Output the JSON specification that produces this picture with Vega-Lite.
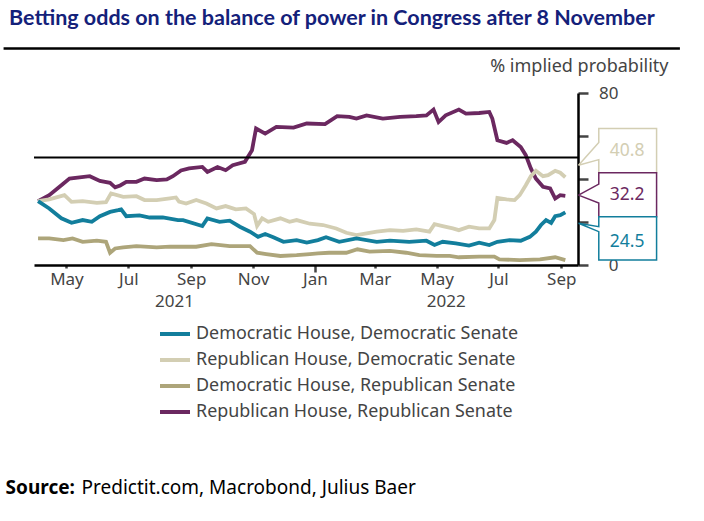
{
  "$schema": "https://vega.github.io/schema/vega-lite/v6.json",
  "width": 544,
  "height": 172,
  "autosize": "none",
  "padding": {"left": 34, "top": 93, "right": 126, "bottom": 256},
  "data": {"values": [{}]},
  "title": {
    "text": "Betting odds on the balance of power in Congress after 8 November",
    "anchor": "start",
    "frame": "group",
    "dx": -25,
    "offset": 18,
    "font": "Lato",
    "fontSize": 21.5,
    "fontWeight": "bold",
    "color": "#14217a"
  },
  "datasets": {
    "series": [
      {"date": "2021-04-03", "series": "Republican House, Republican Senate", "value": 29.7},
      {"date": "2021-04-14", "series": "Republican House, Republican Senate", "value": 32.5},
      {"date": "2021-04-26", "series": "Republican House, Republican Senate", "value": 37.1},
      {"date": "2021-05-04", "series": "Republican House, Republican Senate", "value": 40.2},
      {"date": "2021-05-24", "series": "Republican House, Republican Senate", "value": 41.3},
      {"date": "2021-06-03", "series": "Republican House, Republican Senate", "value": 39.1},
      {"date": "2021-06-13", "series": "Republican House, Republican Senate", "value": 38.2},
      {"date": "2021-06-18", "series": "Republican House, Republican Senate", "value": 36.1},
      {"date": "2021-06-23", "series": "Republican House, Republican Senate", "value": 37.0},
      {"date": "2021-06-29", "series": "Republican House, Republican Senate", "value": 38.7},
      {"date": "2021-07-09", "series": "Republican House, Republican Senate", "value": 38.7},
      {"date": "2021-07-17", "series": "Republican House, Republican Senate", "value": 40.2},
      {"date": "2021-07-29", "series": "Republican House, Republican Senate", "value": 39.5},
      {"date": "2021-08-08", "series": "Republican House, Republican Senate", "value": 39.8},
      {"date": "2021-08-14", "series": "Republican House, Republican Senate", "value": 41.3},
      {"date": "2021-08-22", "series": "Republican House, Republican Senate", "value": 44.0},
      {"date": "2021-08-30", "series": "Republican House, Republican Senate", "value": 44.9},
      {"date": "2021-09-12", "series": "Republican House, Republican Senate", "value": 45.6},
      {"date": "2021-09-17", "series": "Republican House, Republican Senate", "value": 43.3},
      {"date": "2021-09-27", "series": "Republican House, Republican Senate", "value": 45.6},
      {"date": "2021-10-05", "series": "Republican House, Republican Senate", "value": 44.1},
      {"date": "2021-10-12", "series": "Republican House, Republican Senate", "value": 46.4},
      {"date": "2021-10-24", "series": "Republican House, Republican Senate", "value": 48.0},
      {"date": "2021-10-31", "series": "Republican House, Republican Senate", "value": 53.4},
      {"date": "2021-11-04", "series": "Republican House, Republican Senate", "value": 63.5},
      {"date": "2021-11-13", "series": "Republican House, Republican Senate", "value": 61.1},
      {"date": "2021-11-24", "series": "Republican House, Republican Senate", "value": 64.2},
      {"date": "2021-12-11", "series": "Republican House, Republican Senate", "value": 63.9},
      {"date": "2021-12-24", "series": "Republican House, Republican Senate", "value": 65.8},
      {"date": "2022-01-11", "series": "Republican House, Republican Senate", "value": 65.5},
      {"date": "2022-01-23", "series": "Republican House, Republican Senate", "value": 69.2},
      {"date": "2022-02-04", "series": "Republican House, Republican Senate", "value": 68.9},
      {"date": "2022-02-11", "series": "Republican House, Republican Senate", "value": 68.1},
      {"date": "2022-02-21", "series": "Republican House, Republican Senate", "value": 69.6},
      {"date": "2022-03-09", "series": "Republican House, Republican Senate", "value": 68.1},
      {"date": "2022-03-26", "series": "Republican House, Republican Senate", "value": 68.9},
      {"date": "2022-04-11", "series": "Republican House, Republican Senate", "value": 69.2},
      {"date": "2022-04-21", "series": "Republican House, Republican Senate", "value": 69.6},
      {"date": "2022-04-28", "series": "Republican House, Republican Senate", "value": 72.3},
      {"date": "2022-05-03", "series": "Republican House, Republican Senate", "value": 66.5},
      {"date": "2022-05-10", "series": "Republican House, Republican Senate", "value": 69.6},
      {"date": "2022-05-23", "series": "Republican House, Republican Senate", "value": 72.3},
      {"date": "2022-05-30", "series": "Republican House, Republican Senate", "value": 70.4},
      {"date": "2022-06-12", "series": "Republican House, Republican Senate", "value": 70.7},
      {"date": "2022-06-22", "series": "Republican House, Republican Senate", "value": 71.2},
      {"date": "2022-06-25", "series": "Republican House, Republican Senate", "value": 68.1},
      {"date": "2022-06-30", "series": "Republican House, Republican Senate", "value": 58.0},
      {"date": "2022-07-09", "series": "Republican House, Republican Senate", "value": 56.8},
      {"date": "2022-07-15", "series": "Republican House, Republican Senate", "value": 58.0},
      {"date": "2022-07-23", "series": "Republican House, Republican Senate", "value": 54.9},
      {"date": "2022-07-28", "series": "Republican House, Republican Senate", "value": 51.1},
      {"date": "2022-08-02", "series": "Republican House, Republican Senate", "value": 44.9},
      {"date": "2022-08-07", "series": "Republican House, Republican Senate", "value": 40.2},
      {"date": "2022-08-14", "series": "Republican House, Republican Senate", "value": 36.4},
      {"date": "2022-08-21", "series": "Republican House, Republican Senate", "value": 35.6},
      {"date": "2022-08-26", "series": "Republican House, Republican Senate", "value": 30.9},
      {"date": "2022-08-31", "series": "Republican House, Republican Senate", "value": 32.5},
      {"date": "2022-09-05", "series": "Republican House, Republican Senate", "value": 32.2},

      {"date": "2021-04-03", "series": "Republican House, Democratic Senate", "value": 29.7},
      {"date": "2021-04-14", "series": "Republican House, Democratic Senate", "value": 30.5},
      {"date": "2021-04-29", "series": "Republican House, Democratic Senate", "value": 32.5},
      {"date": "2021-05-06", "series": "Republican House, Democratic Senate", "value": 29.4},
      {"date": "2021-05-17", "series": "Republican House, Democratic Senate", "value": 29.7},
      {"date": "2021-05-31", "series": "Republican House, Democratic Senate", "value": 28.9},
      {"date": "2021-06-09", "series": "Republican House, Democratic Senate", "value": 29.2},
      {"date": "2021-06-14", "series": "Republican House, Democratic Senate", "value": 33.3},
      {"date": "2021-06-26", "series": "Republican House, Democratic Senate", "value": 31.7},
      {"date": "2021-07-09", "series": "Republican House, Democratic Senate", "value": 32.0},
      {"date": "2021-07-17", "series": "Republican House, Democratic Senate", "value": 30.2},
      {"date": "2021-07-29", "series": "Republican House, Democratic Senate", "value": 30.2},
      {"date": "2021-08-11", "series": "Republican House, Democratic Senate", "value": 31.0},
      {"date": "2021-08-17", "series": "Republican House, Democratic Senate", "value": 31.4},
      {"date": "2021-08-20", "series": "Republican House, Democratic Senate", "value": 29.5},
      {"date": "2021-08-27", "series": "Republican House, Democratic Senate", "value": 28.6},
      {"date": "2021-09-06", "series": "Republican House, Democratic Senate", "value": 30.2},
      {"date": "2021-09-16", "series": "Republican House, Democratic Senate", "value": 28.6},
      {"date": "2021-09-26", "series": "Republican House, Democratic Senate", "value": 26.3},
      {"date": "2021-10-05", "series": "Republican House, Democratic Senate", "value": 27.4},
      {"date": "2021-10-15", "series": "Republican House, Democratic Senate", "value": 25.9},
      {"date": "2021-10-25", "series": "Republican House, Democratic Senate", "value": 26.3},
      {"date": "2021-11-02", "series": "Republican House, Democratic Senate", "value": 23.7},
      {"date": "2021-11-05", "series": "Republican House, Democratic Senate", "value": 18.2},
      {"date": "2021-11-10", "series": "Republican House, Democratic Senate", "value": 21.7},
      {"date": "2021-11-16", "series": "Republican House, Democratic Senate", "value": 20.1},
      {"date": "2021-11-28", "series": "Republican House, Democratic Senate", "value": 21.7},
      {"date": "2021-12-07", "series": "Republican House, Democratic Senate", "value": 20.1},
      {"date": "2021-12-14", "series": "Republican House, Democratic Senate", "value": 20.9},
      {"date": "2021-12-27", "series": "Republican House, Democratic Senate", "value": 19.2},
      {"date": "2022-01-09", "series": "Republican House, Democratic Senate", "value": 18.6},
      {"date": "2022-01-22", "series": "Republican House, Democratic Senate", "value": 17.0},
      {"date": "2022-02-01", "series": "Republican House, Democratic Senate", "value": 15.0},
      {"date": "2022-02-11", "series": "Republican House, Democratic Senate", "value": 13.9},
      {"date": "2022-02-21", "series": "Republican House, Democratic Senate", "value": 14.7},
      {"date": "2022-03-03", "series": "Republican House, Democratic Senate", "value": 15.5},
      {"date": "2022-03-16", "series": "Republican House, Democratic Senate", "value": 16.2},
      {"date": "2022-03-29", "series": "Republican House, Democratic Senate", "value": 15.9},
      {"date": "2022-04-11", "series": "Republican House, Democratic Senate", "value": 16.6},
      {"date": "2022-04-24", "series": "Republican House, Democratic Senate", "value": 15.5},
      {"date": "2022-04-29", "series": "Republican House, Democratic Senate", "value": 19.0},
      {"date": "2022-05-07", "series": "Republican House, Democratic Senate", "value": 18.1},
      {"date": "2022-05-17", "series": "Republican House, Democratic Senate", "value": 17.0},
      {"date": "2022-05-23", "series": "Republican House, Democratic Senate", "value": 16.2},
      {"date": "2022-06-02", "series": "Republican House, Democratic Senate", "value": 17.8},
      {"date": "2022-06-12", "series": "Republican House, Democratic Senate", "value": 17.0},
      {"date": "2022-06-22", "series": "Republican House, Democratic Senate", "value": 17.0},
      {"date": "2022-06-27", "series": "Republican House, Democratic Senate", "value": 20.9},
      {"date": "2022-06-30", "series": "Republican House, Democratic Senate", "value": 31.2},
      {"date": "2022-07-09", "series": "Republican House, Democratic Senate", "value": 30.5},
      {"date": "2022-07-17", "series": "Republican House, Democratic Senate", "value": 30.2},
      {"date": "2022-07-22", "series": "Republican House, Democratic Senate", "value": 32.5},
      {"date": "2022-07-28", "series": "Republican House, Democratic Senate", "value": 37.1},
      {"date": "2022-08-02", "series": "Republican House, Democratic Senate", "value": 41.3},
      {"date": "2022-08-07", "series": "Republican House, Democratic Senate", "value": 43.8},
      {"date": "2022-08-14", "series": "Republican House, Democratic Senate", "value": 41.3},
      {"date": "2022-08-19", "series": "Republican House, Democratic Senate", "value": 41.8},
      {"date": "2022-08-26", "series": "Republican House, Democratic Senate", "value": 43.8},
      {"date": "2022-08-31", "series": "Republican House, Democratic Senate", "value": 42.9},
      {"date": "2022-09-05", "series": "Republican House, Democratic Senate", "value": 40.8},

      {"date": "2021-04-03", "series": "Democratic House, Democratic Senate", "value": 29.7},
      {"date": "2021-04-14", "series": "Democratic House, Democratic Senate", "value": 26.3},
      {"date": "2021-04-26", "series": "Democratic House, Democratic Senate", "value": 21.7},
      {"date": "2021-05-06", "series": "Democratic House, Democratic Senate", "value": 19.6},
      {"date": "2021-05-17", "series": "Democratic House, Democratic Senate", "value": 20.9},
      {"date": "2021-05-26", "series": "Democratic House, Democratic Senate", "value": 20.1},
      {"date": "2021-06-03", "series": "Democratic House, Democratic Senate", "value": 22.7},
      {"date": "2021-06-13", "series": "Democratic House, Democratic Senate", "value": 24.7},
      {"date": "2021-06-21", "series": "Democratic House, Democratic Senate", "value": 25.5},
      {"date": "2021-06-24", "series": "Democratic House, Democratic Senate", "value": 25.9},
      {"date": "2021-06-29", "series": "Democratic House, Democratic Senate", "value": 22.7},
      {"date": "2021-07-12", "series": "Democratic House, Democratic Senate", "value": 23.1},
      {"date": "2021-07-22", "series": "Democratic House, Democratic Senate", "value": 22.1},
      {"date": "2021-08-04", "series": "Democratic House, Democratic Senate", "value": 22.1},
      {"date": "2021-08-19", "series": "Democratic House, Democratic Senate", "value": 20.9},
      {"date": "2021-08-24", "series": "Democratic House, Democratic Senate", "value": 20.9},
      {"date": "2021-09-12", "series": "Democratic House, Democratic Senate", "value": 18.1},
      {"date": "2021-09-17", "series": "Democratic House, Democratic Senate", "value": 21.7},
      {"date": "2021-09-29", "series": "Democratic House, Democratic Senate", "value": 20.1},
      {"date": "2021-10-09", "series": "Democratic House, Democratic Senate", "value": 20.6},
      {"date": "2021-10-19", "series": "Democratic House, Democratic Senate", "value": 17.8},
      {"date": "2021-10-29", "series": "Democratic House, Democratic Senate", "value": 15.5},
      {"date": "2021-11-06", "series": "Democratic House, Democratic Senate", "value": 13.1},
      {"date": "2021-11-13", "series": "Democratic House, Democratic Senate", "value": 14.4},
      {"date": "2021-11-21", "series": "Democratic House, Democratic Senate", "value": 12.9},
      {"date": "2021-12-01", "series": "Democratic House, Democratic Senate", "value": 10.8},
      {"date": "2021-12-14", "series": "Democratic House, Democratic Senate", "value": 11.6},
      {"date": "2021-12-24", "series": "Democratic House, Democratic Senate", "value": 10.4},
      {"date": "2022-01-04", "series": "Democratic House, Democratic Senate", "value": 11.6},
      {"date": "2022-01-12", "series": "Democratic House, Democratic Senate", "value": 12.9},
      {"date": "2022-01-25", "series": "Democratic House, Democratic Senate", "value": 10.8},
      {"date": "2022-02-11", "series": "Democratic House, Democratic Senate", "value": 12.4},
      {"date": "2022-03-03", "series": "Democratic House, Democratic Senate", "value": 10.8},
      {"date": "2022-03-16", "series": "Democratic House, Democratic Senate", "value": 11.3},
      {"date": "2022-04-04", "series": "Democratic House, Democratic Senate", "value": 10.8},
      {"date": "2022-04-21", "series": "Democratic House, Democratic Senate", "value": 11.3},
      {"date": "2022-04-29", "series": "Democratic House, Democratic Senate", "value": 9.3},
      {"date": "2022-05-07", "series": "Democratic House, Democratic Senate", "value": 10.8},
      {"date": "2022-05-20", "series": "Democratic House, Democratic Senate", "value": 10.1},
      {"date": "2022-06-02", "series": "Democratic House, Democratic Senate", "value": 9.0},
      {"date": "2022-06-12", "series": "Democratic House, Democratic Senate", "value": 10.4},
      {"date": "2022-06-22", "series": "Democratic House, Democratic Senate", "value": 9.3},
      {"date": "2022-06-30", "series": "Democratic House, Democratic Senate", "value": 10.8},
      {"date": "2022-07-12", "series": "Democratic House, Democratic Senate", "value": 11.6},
      {"date": "2022-07-23", "series": "Democratic House, Democratic Senate", "value": 11.3},
      {"date": "2022-08-01", "series": "Democratic House, Democratic Senate", "value": 13.1},
      {"date": "2022-08-07", "series": "Democratic House, Democratic Senate", "value": 15.5},
      {"date": "2022-08-12", "series": "Democratic House, Democratic Senate", "value": 18.6},
      {"date": "2022-08-17", "series": "Democratic House, Democratic Senate", "value": 20.9},
      {"date": "2022-08-22", "series": "Democratic House, Democratic Senate", "value": 19.6},
      {"date": "2022-08-26", "series": "Democratic House, Democratic Senate", "value": 22.7},
      {"date": "2022-08-31", "series": "Democratic House, Democratic Senate", "value": 23.2},
      {"date": "2022-09-05", "series": "Democratic House, Democratic Senate", "value": 24.5},

      {"date": "2021-04-03", "series": "Democratic House, Republican Senate", "value": 12.4},
      {"date": "2021-04-14", "series": "Democratic House, Republican Senate", "value": 12.4},
      {"date": "2021-04-28", "series": "Democratic House, Republican Senate", "value": 11.6},
      {"date": "2021-05-07", "series": "Democratic House, Republican Senate", "value": 12.4},
      {"date": "2021-05-17", "series": "Democratic House, Republican Senate", "value": 10.8},
      {"date": "2021-05-31", "series": "Democratic House, Republican Senate", "value": 11.3},
      {"date": "2021-06-09", "series": "Democratic House, Republican Senate", "value": 10.8},
      {"date": "2021-06-13", "series": "Democratic House, Republican Senate", "value": 5.7},
      {"date": "2021-06-18", "series": "Democratic House, Republican Senate", "value": 7.7},
      {"date": "2021-06-26", "series": "Democratic House, Republican Senate", "value": 8.2},
      {"date": "2021-07-09", "series": "Democratic House, Republican Senate", "value": 8.8},
      {"date": "2021-07-29", "series": "Democratic House, Republican Senate", "value": 8.2},
      {"date": "2021-08-11", "series": "Democratic House, Republican Senate", "value": 8.5},
      {"date": "2021-08-24", "series": "Democratic House, Republican Senate", "value": 8.5},
      {"date": "2021-09-06", "series": "Democratic House, Republican Senate", "value": 8.5},
      {"date": "2021-09-21", "series": "Democratic House, Republican Senate", "value": 9.7},
      {"date": "2021-10-09", "series": "Democratic House, Republican Senate", "value": 8.8},
      {"date": "2021-10-29", "series": "Democratic House, Republican Senate", "value": 8.8},
      {"date": "2021-11-05", "series": "Democratic House, Republican Senate", "value": 5.7},
      {"date": "2021-11-14", "series": "Democratic House, Republican Senate", "value": 5.1},
      {"date": "2021-11-28", "series": "Democratic House, Republican Senate", "value": 4.2},
      {"date": "2021-12-14", "series": "Democratic House, Republican Senate", "value": 4.6},
      {"date": "2021-12-27", "series": "Democratic House, Republican Senate", "value": 5.1},
      {"date": "2022-01-04", "series": "Democratic House, Republican Senate", "value": 5.4},
      {"date": "2022-01-15", "series": "Democratic House, Republican Senate", "value": 5.7},
      {"date": "2022-02-01", "series": "Democratic House, Republican Senate", "value": 5.7},
      {"date": "2022-02-12", "series": "Democratic House, Republican Senate", "value": 7.3},
      {"date": "2022-02-24", "series": "Democratic House, Republican Senate", "value": 6.2},
      {"date": "2022-03-16", "series": "Democratic House, Republican Senate", "value": 6.6},
      {"date": "2022-04-01", "series": "Democratic House, Republican Senate", "value": 5.7},
      {"date": "2022-04-14", "series": "Democratic House, Republican Senate", "value": 4.6},
      {"date": "2022-05-01", "series": "Democratic House, Republican Senate", "value": 4.2},
      {"date": "2022-05-14", "series": "Democratic House, Republican Senate", "value": 4.2},
      {"date": "2022-05-23", "series": "Democratic House, Republican Senate", "value": 3.6},
      {"date": "2022-06-12", "series": "Democratic House, Republican Senate", "value": 3.9},
      {"date": "2022-06-27", "series": "Democratic House, Republican Senate", "value": 3.9},
      {"date": "2022-07-02", "series": "Democratic House, Republican Senate", "value": 2.6},
      {"date": "2022-07-22", "series": "Democratic House, Republican Senate", "value": 2.3},
      {"date": "2022-08-11", "series": "Democratic House, Republican Senate", "value": 2.6},
      {"date": "2022-08-26", "series": "Democratic House, Republican Senate", "value": 3.6},
      {"date": "2022-09-05", "series": "Democratic House, Republican Senate", "value": 2.3}
    ],
    "callouts": [
      {"series": "Republican House, Democratic Senate", "o": 0, "date": "2022-09-18", "value": 46.4},
      {"series": "Republican House, Democratic Senate", "o": 1, "date": "2022-10-08", "value": 49.0},
      {"series": "Republican House, Democratic Senate", "o": 2, "date": "2022-10-08", "value": 42.9},
      {"series": "Republican House, Democratic Senate", "o": 3, "date": "2022-12-04", "value": 42.9},
      {"series": "Republican House, Democratic Senate", "o": 4, "date": "2022-12-04", "value": 63.5},
      {"series": "Republican House, Democratic Senate", "o": 5, "date": "2022-10-08", "value": 63.5},
      {"series": "Republican House, Democratic Senate", "o": 6, "date": "2022-10-08", "value": 57.0},
      {"series": "Republican House, Democratic Senate", "o": 7, "date": "2022-09-18", "value": 46.4},
      {"series": "Republican House, Republican Senate", "o": 0, "date": "2022-09-18", "value": 32.5},
      {"series": "Republican House, Republican Senate", "o": 1, "date": "2022-10-08", "value": 28.8},
      {"series": "Republican House, Republican Senate", "o": 2, "date": "2022-10-08", "value": 22.4},
      {"series": "Republican House, Republican Senate", "o": 3, "date": "2022-12-04", "value": 22.4},
      {"series": "Republican House, Republican Senate", "o": 4, "date": "2022-12-04", "value": 42.9},
      {"series": "Republican House, Republican Senate", "o": 5, "date": "2022-10-08", "value": 42.9},
      {"series": "Republican House, Republican Senate", "o": 6, "date": "2022-10-08", "value": 37.6},
      {"series": "Republican House, Republican Senate", "o": 7, "date": "2022-09-18", "value": 32.5},
      {"series": "Democratic House, Democratic Senate", "o": 0, "date": "2022-09-18", "value": 19.4},
      {"series": "Democratic House, Democratic Senate", "o": 1, "date": "2022-10-08", "value": 15.5},
      {"series": "Democratic House, Democratic Senate", "o": 2, "date": "2022-10-08", "value": 2.3},
      {"series": "Democratic House, Democratic Senate", "o": 3, "date": "2022-12-04", "value": 2.3},
      {"series": "Democratic House, Democratic Senate", "o": 4, "date": "2022-12-04", "value": 22.4},
      {"series": "Democratic House, Democratic Senate", "o": 5, "date": "2022-10-08", "value": 22.4},
      {"series": "Democratic House, Democratic Senate", "o": 6, "date": "2022-10-08", "value": 17.8},
      {"series": "Democratic House, Democratic Senate", "o": 7, "date": "2022-09-18", "value": 19.4}
    ],
    "labels": [
      {"series": "Republican House, Democratic Senate", "label": "40.8", "date": "2022-11-05", "value": 53.2},
      {"series": "Republican House, Republican Senate", "label": "32.2", "date": "2022-11-05", "value": 32.6},
      {"series": "Democratic House, Democratic Senate", "label": "24.5", "date": "2022-11-05", "value": 10.8}
    ]
  },
  "resolve": {"axis": {"x": "independent"}},
  "layer": [
    {
      "data": {"name": "series"},
      "mark": {"type": "line", "strokeWidth": 3.8, "interpolate": "linear"},
      "encoding": {
        "x": {
          "field": "date", "type": "temporal",
          "scale": {"domain": ["2021-03-30", "2022-09-17T12:00:00"]},
          "axis": {
            "orient": "bottom",
            "title": null,
            "format": "%b",
            "tickCount": {"interval": "month", "step": 2},
            "domainColor": "#000000", "domainWidth": 2.5,
            "tickColor": "#444444", "tickWidth": 2.5,
            "tickSize": {"condition": {"test": "month(datum.value) == 0", "value": 7}, "value": 3},
            "labelPadding": {"condition": {"test": "month(datum.value) == 0", "value": -1}, "value": 3},
            "labelFont": "Noto Sans", "labelFontSize": 17, "labelColor": "#444444",
            "labelFlush": false, "labelOverlap": false, "grid": false
          }
        },
        "y": {
          "field": "value", "type": "quantitative",
          "title": "% implied probability",
          "scale": {"domain": [0, 80], "nice": false},
          "axis": {
            "orient": "right",
            "values": [0, 10, 20, 30, 40, 50, 60, 70, 80],
            "labelExpr": "datum.value == 0 || datum.value == 80 ? datum.label : ''",
            "titleAngle": 0, "titleAlign": "right", "titleBaseline": "alphabetic",
            "titleX": 90, "titleY": -22,
            "titleFont": "Noto Sans", "titleFontSize": 18, "titleFontWeight": "normal", "titleColor": "#444444",
            "domainColor": "#000000", "domainWidth": 2.5,
            "tickColor": "#444444", "tickWidth": 2.5, "tickSize": 10,
            "labelFont": "Noto Sans", "labelFontSize": 17, "labelColor": "#444444",
            "labelAlign": "right", "labelPadding": 30, "grid": false
          }
        },
        "color": {
          "field": "series", "type": "nominal",
          "scale": {
            "domain": ["Democratic House, Democratic Senate", "Republican House, Democratic Senate", "Democratic House, Republican Senate", "Republican House, Republican Senate"],
            "range": ["#127e9c", "#d3ceb3", "#ada57a", "#6b2860"]
          },
          "legend": {
            "orient": "none", "legendX": 124, "legendY": 224,
            "direction": "vertical", "title": null,
            "symbolType": "stroke", "symbolStrokeWidth": 4, "symbolSize": 900,
            "labelFont": "Noto Sans", "labelFontSize": 17.9, "labelColor": "#444444",
            "labelOffset": 4, "rowPadding": 0, "labelLimit": 0
          }
        }
      }
    },
    {
      "mark": {"type": "rule", "color": "#000000", "strokeWidth": 2},
      "encoding": {"y": {"datum": 50, "type": "quantitative", "title": "% implied probability"}}
    },
    {
      "data": {"name": "callouts"},
      "mark": {"type": "line", "fill": "#ffffff", "strokeWidth": 1.5, "interpolate": "linear"},
      "encoding": {
        "x": {"field": "date", "type": "temporal", "axis": null},
        "y": {"field": "value", "type": "quantitative", "title": "% implied probability"},
        "order": {"field": "o", "type": "quantitative"},
        "detail": {"field": "series"},
        "color": {"field": "series", "type": "nominal"}
      }
    },
    {
      "data": {"name": "labels"},
      "mark": {"type": "text", "font": "Noto Sans", "fontSize": 17.5, "align": "center", "baseline": "middle"},
      "encoding": {
        "x": {
          "field": "date", "type": "temporal",
          "axis": {
            "orient": "bottom", "title": null,
            "values": [{"year": 2021, "month": "aug", "date": 15}, {"year": 2022, "month": "may", "date": 10}],
            "labelExpr": "timeFormat(datum.value, '%Y')",
            "ticks": false, "domain": false, "grid": false,
            "labelFont": "Noto Sans", "labelFontSize": 17, "labelColor": "#444444",
            "labelPadding": 28, "labelFlush": false, "labelOverlap": false
          }
        },
        "y": {"field": "value", "type": "quantitative", "title": "% implied probability"},
        "text": {"field": "label"},
        "color": {"field": "series", "type": "nominal"}
      }
    },
    {
      "mark": {"type": "rule", "color": "#000000", "strokeWidth": 2.5},
      "encoding": {
        "x": {"datum": {"year": 2021, "month": "feb", "date": 28}, "type": "temporal", "axis": null},
        "x2": {"datum": {"year": 2022, "month": "dec", "date": 27}},
        "y": {"datum": 100.7, "type": "quantitative", "title": "% implied probability"}
      }
    },
    {
      "mark": {"type": "text", "text": "Source:", "font": "Noto Sans", "fontSize": 19, "fontWeight": "bold", "align": "left", "baseline": "alphabetic", "color": "#000000"},
      "encoding": {
        "x": {"datum": {"year": 2021, "month": "mar", "date": 2}, "type": "temporal", "axis": null},
        "y": {"datum": -106.3, "type": "quantitative", "title": "% implied probability"}
      }
    },
    {
      "mark": {"type": "text", "text": "Predictit.com, Macrobond, Julius Baer", "font": "Noto Sans", "fontSize": 19, "align": "left", "baseline": "alphabetic", "color": "#000000", "dx": 76},
      "encoding": {
        "x": {"datum": {"year": 2021, "month": "mar", "date": 2}, "type": "temporal", "axis": null},
        "y": {"datum": -106.3, "type": "quantitative", "title": "% implied probability"}
      }
    }
  ],
  "config": {
    "view": {"stroke": null},
    "font": "Noto Sans"
  }
}
